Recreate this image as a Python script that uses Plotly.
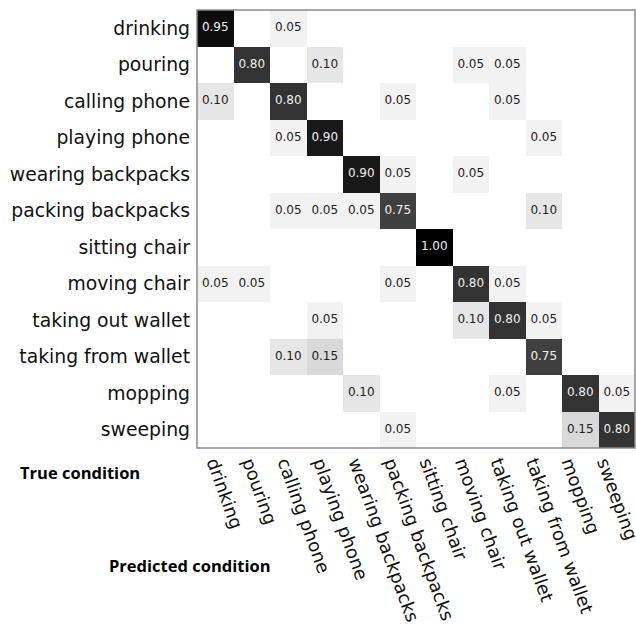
import plotly.graph_objects as go

# Action classes (rows: true label, columns: predicted label)
classes = [
    "drinking", "pouring", "calling phone", "playing phone",
    "wearing backpacks", "packing backpacks", "sitting chair", "moving chair",
    "taking out wallet", "taking from wallet", "mopping", "sweeping",
]

# Normalised confusion matrix, one list per true class
drinking = [0.95, 0, 0.05, 0, 0, 0, 0, 0, 0, 0, 0, 0]
pouring = [0, 0.80, 0, 0.10, 0, 0, 0, 0.05, 0.05, 0, 0, 0]
calling_phone = [0.10, 0, 0.80, 0, 0, 0.05, 0, 0, 0.05, 0, 0, 0]
playing_phone = [0, 0, 0.05, 0.90, 0, 0, 0, 0, 0, 0.05, 0, 0]
wearing_backpacks = [0, 0, 0, 0, 0.90, 0.05, 0, 0.05, 0, 0, 0, 0]
packing_backpacks = [0, 0, 0.05, 0.05, 0.05, 0.75, 0, 0, 0, 0.10, 0, 0]
sitting_chair = [0, 0, 0, 0, 0, 0, 1.00, 0, 0, 0, 0, 0]
moving_chair = [0.05, 0.05, 0, 0, 0, 0.05, 0, 0.80, 0.05, 0, 0, 0]
taking_out_wallet = [0, 0, 0, 0.05, 0, 0, 0, 0.10, 0.80, 0.05, 0, 0]
taking_from_wallet = [0, 0, 0.10, 0.15, 0, 0, 0, 0, 0, 0.75, 0, 0]
mopping = [0, 0, 0, 0, 0.10, 0, 0, 0, 0.05, 0, 0.80, 0.05]
sweeping = [0, 0, 0, 0, 0, 0.05, 0, 0, 0, 0, 0.15, 0.80]

matrix = [
    drinking, pouring, calling_phone, playing_phone, wearing_backpacks,
    packing_backpacks, sitting_chair, moving_chair, taking_out_wallet,
    taking_from_wallet, mopping, sweeping,
]

W, H = 636, 629
ML, MR, MT, MB = 197, 1, 10, 181

fig = go.Figure()

fig.add_trace(go.Heatmap(
    z=matrix, x=classes, y=classes,
    zmin=0, zmax=1,
    colorscale=[[0, "#ffffff"], [1, "#000000"]],
    showscale=False, hoverongaps=False,
))

# Cell values (zeros left blank), light text on dark cells
tx, ty, tt, tc = [], [], [], []
for i, row in enumerate(matrix):
    for j, v in enumerate(row):
        if v > 0:
            tx.append(classes[j])
            ty.append(classes[i])
            tt.append(f"{v:.2f}")
            tc.append("#f0f0f0" if v > 0.5 else "#222222")
fig.add_trace(go.Scatter(
    x=tx, y=ty, text=tt, mode="text",
    textfont=dict(family="DejaVu Sans", size=12, color=tc),
    hoverinfo="skip", showlegend=False,
))

fig.update_xaxes(
    type="category", showgrid=False, zeroline=False, ticks="",
    showticklabels=False, showline=False, range=[-0.5, 11.5], automargin=False,
)
fig.update_yaxes(
    type="category", showgrid=False, zeroline=False, ticks="",
    autorange=False, range=[11.5, -0.5], automargin=False,
    tickfont=dict(family="DejaVu Sans", size=18.8, color="#111111"),
    ticklabelstandoff=6, showline=False,
)

# Predicted-class labels on a slightly narrower companion axis
fig.update_layout(xaxis2=dict(
    domain=[0, 426 / 438], anchor="y", side="bottom",
    range=[-0.5, 11.5], tickmode="array",
    tickvals=list(range(len(classes))), ticktext=classes,
    tickangle=70, tickfont=dict(family="DejaVu Sans", size=18, color="#111111"),
    ticklabeloverflow="allow",
    showgrid=False, zeroline=False, ticks="", showline=False, automargin=False,
))
fig.add_trace(go.Scatter(x=[], y=[], xaxis="x2", yaxis="y", showlegend=False,
                         hoverinfo="skip"))

# Frame around the matrix
fig.add_shape(type="rect", xref="paper", yref="paper", x0=0, y0=0, x1=1, y1=1,
              line=dict(color="#8a8a8a", width=1.5), fillcolor="rgba(0,0,0,0)")

bold = dict(family="Open Sans", size=16.5, color="#000000")
fig.add_annotation(text="<b>True condition</b>", xref="paper", yref="paper",
                   x=(18 - ML) / (W - ML - MR), y=(H - MB - 472) / (H - MT - MB),
                   xanchor="left", yanchor="middle", showarrow=False, font=bold)
fig.add_annotation(text="<b>Predicted condition</b>", xref="paper", yref="paper",
                   x=(107 - ML) / (W - ML - MR), y=(H - MB - 565) / (H - MT - MB),
                   xanchor="left", yanchor="middle", showarrow=False, font=bold)

fig.update_layout(
    width=W, height=H,
    margin=dict(l=ML, r=MR, t=MT, b=MB, pad=0),
    paper_bgcolor="white", plot_bgcolor="rgba(0,0,0,0)",
    showlegend=False,
)

fig.write_html("out.html")
